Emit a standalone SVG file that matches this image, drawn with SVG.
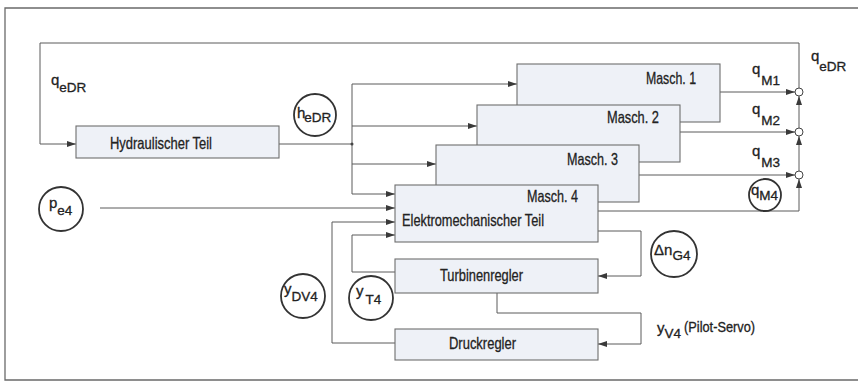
<svg xmlns="http://www.w3.org/2000/svg" width="858" height="385" viewBox="0 0 858 385">
<defs>
<marker id="arr" viewBox="0 0 9 6" refX="9" refY="3" markerWidth="9" markerHeight="6" markerUnits="userSpaceOnUse" orient="auto">
<path d="M0,0 L9,3 L0,6 z" fill="#3a3a3a"/>
</marker>
<style>
.frame{fill:none;stroke:#6a6a6a;stroke-width:1.3}
.box{fill:#eef1f7;stroke:#6e6e6e;stroke-width:1.1}
.ln{fill:none;stroke:#5a5a5a;stroke-width:1}
.ar{marker-end:url(#arr)}
.circ{fill:none;stroke:#333;stroke-width:1.8}
.sum{fill:#fff;stroke:#444;stroke-width:1}
text{font-family:"Liberation Sans",Arial,sans-serif;fill:#222;stroke:#222;stroke-width:0.3}
.t{font-size:16.5px}
.v{font-size:15px}
.s{font-size:13.5px}
.p{font-size:14px}
</style>
</defs>
<rect width="858" height="385" fill="#ffffff"/>
<path class="frame" d="M858,8 H5 V380 H858"/>

<g id="connectors">
<path class="ln ar" d="M799,88 V43 H40 V144 H76"/>
<path class="ln" d="M279,144 H352"/>
<path class="ln" d="M352,84 V194"/>
<circle cx="352" cy="144" r="1.5" fill="#444"/>
<path class="ln ar" d="M352,84 H517"/>
<path class="ln ar" d="M352,126 H477"/>
<path class="ln ar" d="M352,164 H436"/>
<path class="ln ar" d="M352,194 H395"/>
<path class="ln ar" d="M100,208 H395"/>
<path class="ln ar" d="M395,343 H332 V222 H395"/>
<path class="ln ar" d="M395,272 H352 V235 H395"/>
<path class="ln ar" d="M598,231 H641 V276 H598"/>
<path class="ln ar" d="M497,293 V313 H641 V344 H598"/>
<path class="ln ar" d="M720,92 H795"/>
<path class="ln ar" d="M680,132 H795"/>
<path class="ln ar" d="M639,175 H795"/>
<path class="ln ar" d="M598,211 H799 V179"/>
<path class="ln ar" d="M799,171 V136"/>
<path class="ln ar" d="M799,128 V96"/>
</g>

<g id="sum1"><circle class="sum" cx="799" cy="92" r="4"/></g>
<g id="sum2"><circle class="sum" cx="799" cy="132" r="4"/></g>
<g id="sum3"><circle class="sum" cx="799" cy="175" r="4"/></g>

<g id="hydraulischer-teil">
<rect class="box" x="76" y="126" width="203" height="32"/>
<text class="t" x="110" y="149" textLength="102" lengthAdjust="spacingAndGlyphs">Hydraulischer Teil</text>
</g>

<g id="masch1">
<rect class="box" x="517" y="64" width="203" height="58"/>
<text class="t" x="646" y="84" textLength="50" lengthAdjust="spacingAndGlyphs">Masch. 1</text>
</g>
<g id="masch2">
<rect class="box" x="477" y="105" width="203" height="57"/>
<text class="t" x="607" y="123" textLength="52" lengthAdjust="spacingAndGlyphs">Masch. 2</text>
</g>
<g id="masch3">
<rect class="box" x="436" y="145" width="203" height="57"/>
<text class="t" x="567" y="165" textLength="51" lengthAdjust="spacingAndGlyphs">Masch. 3</text>
</g>
<g id="masch4">
<rect class="box" x="395" y="185" width="203" height="57"/>
<text class="t" x="527" y="202" textLength="51" lengthAdjust="spacingAndGlyphs">Masch. 4</text>
<text class="t" x="402" y="226" textLength="142" lengthAdjust="spacingAndGlyphs">Elektromechanischer Teil</text>
</g>

<g id="turbinenregler">
<rect class="box" x="395" y="259" width="203" height="34"/>
<text class="t" x="440" y="281" textLength="83" lengthAdjust="spacingAndGlyphs">Turbinenregler</text>
</g>
<g id="druckregler">
<rect class="box" x="395" y="329" width="203" height="31"/>
<text class="t" x="449" y="349" textLength="67" lengthAdjust="spacingAndGlyphs">Druckregler</text>
</g>

<g id="label-qeDR-left">
<text class="v" x="51" y="85">q<tspan class="s" dx="0" dy="7">eDR</tspan></text>
</g>
<g id="label-qeDR-right">
<text class="v" x="811" y="61">q<tspan class="s" dx="0" dy="10">eDR</tspan></text>
</g>
<g id="label-qM1">
<text class="v" x="752" y="74">q<tspan class="s" dx="1" dy="11">M1</tspan></text>
</g>
<g id="label-qM2">
<text class="v" x="752" y="114">q<tspan class="s" dx="1" dy="11">M2</tspan></text>
</g>
<g id="label-qM3">
<text class="v" x="752" y="156">q<tspan class="s" dx="1" dy="11">M3</tspan></text>
</g>
<g id="label-yV4">
<text class="v" x="657" y="333">y<tspan class="s" dx="0" dy="5">V4</tspan><tspan class="p" dx="3" dy="-6" textLength="71" lengthAdjust="spacingAndGlyphs">(Pilot-Servo)</tspan></text>
</g>

<g id="circle-heDR">
<circle class="circ" cx="315" cy="115" r="21"/>
<text class="v" x="297" y="118">h<tspan class="s" dx="-1" dy="4">eDR</tspan></text>
</g>
<g id="circle-pe4">
<circle class="circ" cx="61" cy="209" r="22"/>
<text class="v" x="49" y="208">p<tspan class="s" dx="0" dy="7">e4</tspan></text>
</g>
<g id="circle-yDV4">
<circle class="circ" cx="303" cy="296" r="22"/>
<text class="v" x="284" y="294">y<tspan class="s" dx="0" dy="7">DV4</tspan></text>
</g>
<g id="circle-yT4">
<circle class="circ" cx="371" cy="298" r="22"/>
<text class="v" x="356" y="296">y<tspan class="s" dx="2" dy="8">T4</tspan></text>
</g>
<g id="circle-dnG4">
<circle class="circ" cx="674" cy="254" r="23"/>
<text class="v" x="654" y="255">Δn<tspan class="s" dx="0" dy="5">G4</tspan></text>
</g>
<g id="circle-qM4">
<circle class="circ" cx="765" cy="195" r="16"/>
<text class="v" x="751" y="195">q<tspan class="s" dx="0" dy="5">M4</tspan></text>
</g>
</svg>
